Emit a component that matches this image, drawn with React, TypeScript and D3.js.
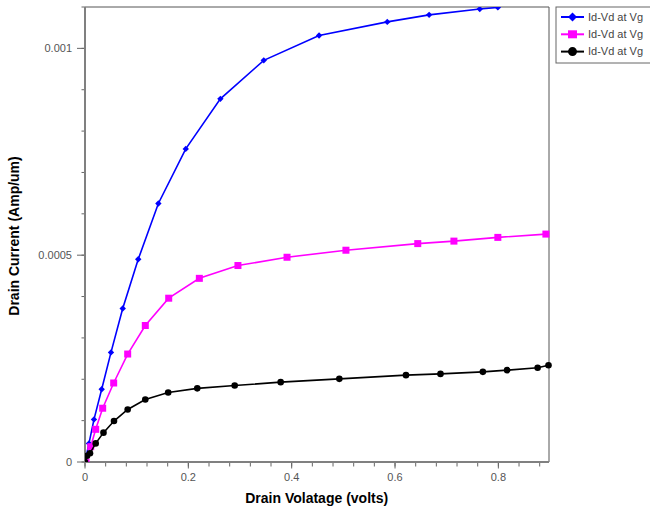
import React from "react";
import * as d3 from "d3";

const blueX = [0.0, 0.0077, 0.0174, 0.0323, 0.0503, 0.073, 0.103, 0.142, 0.195, 0.262, 0.346, 0.453, 0.585, 0.666, 0.764, 0.799];
const blueY = [0.0, 4.5e-5, 1.03e-4, 1.76e-4, 2.65e-4, 3.71e-4, 4.9e-4, 6.25e-4, 7.57e-4, 8.78e-4, 9.71e-4, 1.031e-3, 1.064e-3, 1.081e-3, 1.095e-3, 1.099e-3];

const pinkX = [0.002, 0.011, 0.0207, 0.0342, 0.0555, 0.0826, 0.1167, 0.162, 0.2213, 0.296, 0.391, 0.505, 0.644, 0.714, 0.799, 0.892];
const pinkY = [0.0, 3.7e-5, 7.9e-5, 1.3e-4, 1.91e-4, 2.61e-4, 3.3e-4, 3.96e-4, 4.44e-4, 4.75e-4, 4.95e-4, 5.12e-4, 5.28e-4, 5.34e-4, 5.43e-4, 5.51e-4];

const blackX = [0.0, 0.004, 0.0097, 0.0207, 0.0358, 0.0561, 0.0826, 0.1167, 0.161, 0.2173, 0.2897, 0.3787, 0.4922, 0.6212, 0.688, 0.77, 0.817, 0.876, 0.897];
const blackY = [0.0, 1.5e-5, 2.1e-5, 4.5e-5, 7.1e-5, 9.9e-5, 1.27e-4, 1.51e-4, 1.68e-4, 1.78e-4, 1.85e-4, 1.93e-4, 2.01e-4, 2.1e-4, 2.13e-4, 2.18e-4, 2.22e-4, 2.28e-4, 2.34e-4];

const seriesNames = ["Id-Vd at Vg", "Id-Vd at Vg", "Id-Vd at Vg"];
const seriesColors = ["#0000ff", "#ff00ff", "#000000"];
const xTickLabels = [0, 0.2, 0.4, 0.6, 0.8];
const yTickLabels = [0, 0.0005, 0.001];

const left = 85, right = 549, top = 7, bottom = 462;
const x = d3.scaleLinear().domain([0, 0.898]).range([left, right]);
const y = d3.scaleLinear().domain([0, 0.0011]).range([bottom, top]);
const font = "'Liberation Sans', Arial, sans-serif";

function Marker({ kind, cx, cy, color }: { kind: number; cx: number; cy: number; color: string }) {
  if (kind === 0) {
    const s = 3.2;
    return <path d={`M${cx},${cy - s}L${cx + s},${cy}L${cx},${cy + s}L${cx - s},${cy}Z`} fill={color} />;
  }
  if (kind === 1) return <rect x={cx - 3.5} y={cy - 3.5} width={7} height={7} fill={color} />;
  return <circle cx={cx} cy={cy} r={3.3} fill={color} />;
}

export default function App() {
  const series = [
    blueX.map((v, i) => [v, blueY[i]] as [number, number]),
    pinkX.map((v, i) => [v, pinkY[i]] as [number, number]),
    blackX.map((v, i) => [v, blackY[i]] as [number, number]),
  ];
  const line = d3.line<[number, number]>().x((d) => x(d[0])).y((d) => y(d[1]));
  const xMinor = d3.range(0, 0.9, 0.04);
  const yMinor = d3.range(0, 0.00111, 0.0001);
  return (
    <svg width={650} height={513} style={{ position: "fixed", left: 0, top: 0, background: "#fff" }} fontFamily={font}>
      <rect width={650} height={513} fill="#fff" />
      <defs>
        <clipPath id="plot">
          <rect x={left} y={top} width={right - left + 4} height={bottom - top} />
        </clipPath>
      </defs>
      {/* frame */}
      <line x1={left} x2={right} y1={top} y2={top} stroke="#555" strokeWidth={1} />
      <line x1={right} x2={right} y1={top} y2={bottom} stroke="#555" strokeWidth={1} />
      {/* y ticks */}
      {yMinor.map((v, i) => (
        <line key={"ym" + i} x1={left - 3.5} x2={left} y1={y(v)} y2={y(v)} stroke="#666" strokeWidth={1} />
      ))}
      {yTickLabels.map((v) => (
        <g key={"yt" + v}>
          <line x1={left - 8} x2={left} y1={y(v)} y2={y(v)} stroke="#666" strokeWidth={1} />
          <text x={72} y={y(v)} dy="0.35em" textAnchor="end" fontSize={11} fill="#555">{String(v)}</text>
        </g>
      ))}
      {/* x ticks */}
      {xMinor.map((v, i) => (
        <line key={"xm" + i} x1={x(v)} x2={x(v)} y1={bottom} y2={bottom + 4.5} stroke="#666" strokeWidth={1} />
      ))}
      {xTickLabels.map((v) => (
        <g key={"xt" + v}>
          <line x1={x(v)} x2={x(v)} y1={bottom} y2={bottom + 6.5} stroke="#666" strokeWidth={1} />
          <text x={x(v)} y={481} textAnchor="middle" fontSize={11} fill="#555">{String(v)}</text>
        </g>
      ))}
      {/* axes */}
      <line x1={left} x2={left} y1={top} y2={bottom + 1} stroke="#808080" strokeWidth={2} />
      <line x1={left - 1} x2={right} y1={bottom} y2={bottom} stroke="#808080" strokeWidth={2} />
      {/* series */}
      <g clipPath="url(#plot)">
        {series.map((s, k) => (
          <g key={"s" + k}>
            <path d={line(s) || ""} fill="none" stroke={seriesColors[k]} strokeWidth={1.6} />
            {s.map((d, i) => (
              <Marker key={i} kind={k} cx={x(d[0])} cy={y(d[1])} color={seriesColors[k]} />
            ))}
          </g>
        ))}
      </g>
      {/* axis titles */}
      <text x={316.7} y={503} textAnchor="middle" fontSize={14} fontWeight="bold" fill="#000">Drain Volatage (volts)</text>
      <text transform="translate(19,236) rotate(-90)" textAnchor="middle" fontSize={14} fontWeight="bold" fill="#000">Drain Current (Amp/um)</text>
      {/* legend */}
      <rect x={556} y={7} width={110} height={56} fill="#fff" stroke="#666" strokeWidth={1} />
      {seriesNames.map((n, k) => {
        const ly = 17 + k * 17.3;
        return (
          <g key={"lg" + k}>
            <line x1={561} x2={584} y1={ly} y2={ly} stroke={seriesColors[k]} strokeWidth={2} />
            {k === 0 ? (
              <path d={`M572.5,${ly - 4.5}L577,${ly}L572.5,${ly + 4.5}L568,${ly}Z`} fill={seriesColors[k]} />
            ) : k === 1 ? (
              <rect x={568} y={ly - 4} width={9} height={8} fill={seriesColors[k]} />
            ) : (
              <circle cx={572.5} cy={ly} r={4.5} fill={seriesColors[k]} />
            )}
            <text x={588} y={ly} dy="0.35em" fontSize={11} fill="#444">{n}</text>
          </g>
        );
      })}
    </svg>
  );
}
